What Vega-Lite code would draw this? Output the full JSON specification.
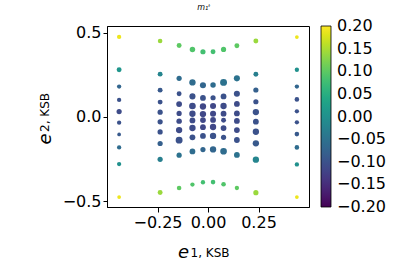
{
  "$schema": "https://vega.github.io/schema/vega-lite/v6.json",
  "width": 202,
  "height": 181,
  "autosize": "none",
  "padding": {"left": 107, "top": 26, "right": 90, "bottom": 59},
  "background": "white",
  "config": {
    "view": {"stroke": "black", "strokeWidth": 1},
    "font": "DejaVu Sans",
    "axis": {"labelFont": "DejaVu Sans", "titleFont": "DejaVu Sans", "labelColor": "black", "titleColor": "black", "tickColor": "black", "domainColor": "black", "grid": false, "titleFontWeight": "normal"},
    "legend": {"labelFont": "DejaVu Sans", "labelColor": "black"}
  },
  "title": {"text": "m₁ᵗ", "font": "DejaVu Sans", "fontSize": 8, "fontStyle": "italic", "fontWeight": "normal", "color": "black", "anchor": "middle", "baseline": "alphabetic", "offset": 7, "dx": -4},
  "data": {"values": [
    {"e1": -0.44, "e2": 0.475, "m": 0.19, "s": 5.0},
    {"e1": -0.44, "e2": 0.28, "m": 0.01, "s": 5.7},
    {"e1": -0.44, "e2": 0.18, "m": -0.07, "s": 5.0},
    {"e1": -0.44, "e2": 0.101, "m": -0.1, "s": 5.0},
    {"e1": -0.44, "e2": 0.032, "m": -0.11, "s": 6.0},
    {"e1": -0.44, "e2": -0.034, "m": -0.1, "s": 5.0},
    {"e1": -0.44, "e2": -0.104, "m": -0.09, "s": 4.3},
    {"e1": -0.44, "e2": -0.181, "m": -0.06, "s": 5.0},
    {"e1": -0.44, "e2": -0.28, "m": 0.0, "s": 5.0},
    {"e1": -0.44, "e2": -0.476, "m": 0.19, "s": 4.3},

    {"e1": -0.237, "e2": 0.451, "m": 0.14, "s": 5.3},
    {"e1": -0.237, "e2": 0.254, "m": -0.02, "s": 5.7},
    {"e1": -0.237, "e2": 0.159, "m": -0.09, "s": 5.7},
    {"e1": -0.237, "e2": 0.088, "m": -0.1, "s": 5.7},
    {"e1": -0.237, "e2": 0.028, "m": -0.1, "s": 6.0},
    {"e1": -0.237, "e2": -0.029, "m": -0.1, "s": 6.0},
    {"e1": -0.237, "e2": -0.089, "m": -0.1, "s": 6.0},
    {"e1": -0.237, "e2": -0.158, "m": -0.08, "s": 6.0},
    {"e1": -0.237, "e2": -0.252, "m": -0.03, "s": 6.0},
    {"e1": -0.237, "e2": -0.449, "m": 0.14, "s": 5.7},

    {"e1": -0.143, "e2": 0.424, "m": 0.1, "s": 5.7},
    {"e1": -0.143, "e2": 0.229, "m": -0.06, "s": 6.0},
    {"e1": -0.143, "e2": 0.138, "m": -0.1, "s": 5.7},
    {"e1": -0.143, "e2": 0.076, "m": -0.11, "s": 6.7},
    {"e1": -0.143, "e2": 0.021, "m": -0.11, "s": 6.0},
    {"e1": -0.143, "e2": -0.025, "m": -0.11, "s": 6.3},
    {"e1": -0.143, "e2": -0.078, "m": -0.11, "s": 7.3},
    {"e1": -0.143, "e2": -0.138, "m": -0.1, "s": 8.0},
    {"e1": -0.143, "e2": -0.227, "m": -0.05, "s": 6.0},
    {"e1": -0.143, "e2": -0.422, "m": 0.1, "s": 5.3},

    {"e1": -0.077, "e2": 0.4, "m": 0.09, "s": 6.3},
    {"e1": -0.077, "e2": 0.205, "m": -0.06, "s": 7.3},
    {"e1": -0.077, "e2": 0.122, "m": -0.1, "s": 7.0},
    {"e1": -0.077, "e2": 0.065, "m": -0.11, "s": 7.7},
    {"e1": -0.077, "e2": 0.019, "m": -0.11, "s": 7.3},
    {"e1": -0.077, "e2": -0.021, "m": -0.11, "s": 6.7},
    {"e1": -0.077, "e2": -0.066, "m": -0.11, "s": 7.3},
    {"e1": -0.077, "e2": -0.121, "m": -0.1, "s": 6.7},
    {"e1": -0.077, "e2": -0.205, "m": -0.06, "s": 6.7},
    {"e1": -0.077, "e2": -0.402, "m": 0.09, "s": 5.0},

    {"e1": -0.025, "e2": 0.387, "m": 0.08, "s": 6.0},
    {"e1": -0.025, "e2": 0.188, "m": -0.07, "s": 7.0},
    {"e1": -0.025, "e2": 0.113, "m": -0.1, "s": 6.7},
    {"e1": -0.025, "e2": 0.062, "m": -0.115, "s": 7.3},
    {"e1": -0.025, "e2": 0.017, "m": -0.115, "s": 7.3},
    {"e1": -0.025, "e2": -0.019, "m": -0.115, "s": 6.7},
    {"e1": -0.025, "e2": -0.061, "m": -0.115, "s": 6.7},
    {"e1": -0.025, "e2": -0.113, "m": -0.1, "s": 6.7},
    {"e1": -0.025, "e2": -0.194, "m": -0.07, "s": 6.0},
    {"e1": -0.025, "e2": -0.388, "m": 0.08, "s": 5.0},

    {"e1": 0.025, "e2": 0.387, "m": 0.08, "s": 5.7},
    {"e1": 0.025, "e2": 0.19, "m": -0.06, "s": 6.3},
    {"e1": 0.025, "e2": 0.114, "m": -0.1, "s": 6.0},
    {"e1": 0.025, "e2": 0.065, "m": -0.115, "s": 7.0},
    {"e1": 0.025, "e2": 0.019, "m": -0.115, "s": 7.0},
    {"e1": 0.025, "e2": -0.018, "m": -0.115, "s": 6.7},
    {"e1": 0.025, "e2": -0.06, "m": -0.115, "s": 7.3},
    {"e1": 0.025, "e2": -0.113, "m": -0.1, "s": 7.3},
    {"e1": 0.025, "e2": -0.193, "m": -0.07, "s": 7.3},
    {"e1": 0.025, "e2": -0.387, "m": 0.08, "s": 5.3},

    {"e1": 0.077, "e2": 0.401, "m": 0.09, "s": 6.0},
    {"e1": 0.077, "e2": 0.205, "m": -0.05, "s": 8.0},
    {"e1": 0.077, "e2": 0.122, "m": -0.1, "s": 6.7},
    {"e1": 0.077, "e2": 0.065, "m": -0.11, "s": 7.3},
    {"e1": 0.077, "e2": 0.019, "m": -0.11, "s": 6.7},
    {"e1": 0.077, "e2": -0.02, "m": -0.11, "s": 5.7},
    {"e1": 0.077, "e2": -0.066, "m": -0.11, "s": 6.7},
    {"e1": 0.077, "e2": -0.121, "m": -0.1, "s": 6.0},
    {"e1": 0.077, "e2": -0.204, "m": -0.06, "s": 7.7},
    {"e1": 0.077, "e2": -0.4, "m": 0.09, "s": 5.3},

    {"e1": 0.143, "e2": 0.423, "m": 0.1, "s": 5.7},
    {"e1": 0.143, "e2": 0.229, "m": -0.05, "s": 7.0},
    {"e1": 0.143, "e2": 0.138, "m": -0.1, "s": 7.0},
    {"e1": 0.143, "e2": 0.077, "m": -0.11, "s": 6.7},
    {"e1": 0.143, "e2": 0.021, "m": -0.11, "s": 6.7},
    {"e1": 0.143, "e2": -0.024, "m": -0.11, "s": 6.7},
    {"e1": 0.143, "e2": -0.078, "m": -0.11, "s": 6.7},
    {"e1": 0.143, "e2": -0.137, "m": -0.1, "s": 6.7},
    {"e1": 0.143, "e2": -0.226, "m": -0.05, "s": 6.7},
    {"e1": 0.143, "e2": -0.422, "m": 0.1, "s": 5.0},

    {"e1": 0.237, "e2": 0.451, "m": 0.14, "s": 5.7},
    {"e1": 0.237, "e2": 0.253, "m": -0.03, "s": 5.7},
    {"e1": 0.237, "e2": 0.16, "m": -0.08, "s": 6.0},
    {"e1": 0.237, "e2": 0.09, "m": -0.1, "s": 6.0},
    {"e1": 0.237, "e2": 0.029, "m": -0.1, "s": 7.3},
    {"e1": 0.237, "e2": -0.028, "m": -0.1, "s": 6.7},
    {"e1": 0.237, "e2": -0.088, "m": -0.1, "s": 7.3},
    {"e1": 0.237, "e2": -0.157, "m": -0.09, "s": 7.3},
    {"e1": 0.237, "e2": -0.254, "m": -0.02, "s": 7.3},
    {"e1": 0.237, "e2": -0.45, "m": 0.14, "s": 6.0},

    {"e1": 0.44, "e2": 0.474, "m": 0.19, "s": 4.3},
    {"e1": 0.44, "e2": 0.28, "m": 0.0, "s": 5.0},
    {"e1": 0.44, "e2": 0.18, "m": -0.07, "s": 5.0},
    {"e1": 0.44, "e2": 0.104, "m": -0.1, "s": 5.3},
    {"e1": 0.44, "e2": 0.033, "m": -0.1, "s": 5.0},
    {"e1": 0.44, "e2": -0.032, "m": -0.1, "s": 5.0},
    {"e1": 0.44, "e2": -0.102, "m": -0.09, "s": 5.3},
    {"e1": 0.44, "e2": -0.181, "m": -0.06, "s": 5.3},
    {"e1": 0.44, "e2": -0.282, "m": 0.0, "s": 5.0},
    {"e1": 0.44, "e2": -0.476, "m": 0.19, "s": 4.3}
  ]},
  "layer": [
    {
      "mark": {"type": "point", "filled": true, "shape": "circle", "opacity": 1},
      "encoding": {
        "x": {"field": "e1", "type": "quantitative",
              "scale": {"domain": [-0.5, 0.5], "nice": false, "zero": false},
              "axis": {"orient": "bottom", "values": [-0.25, 0, 0.25], "format": ".2f", "labelFontSize": 16, "tickSize": 5, "labelPadding": 2,
                       "title": "e", "titleFontSize": 18, "titleFontStyle": "italic", "titleAngle": 0, "titleAlign": "left", "titleBaseline": "alphabetic", "titleX": 70.5, "titleY": 50}},
        "y": {"field": "e2", "type": "quantitative",
              "scale": {"domain": [-0.535, 0.54], "nice": false, "zero": false},
              "axis": {"orient": "left", "values": [-0.5, 0, 0.5], "format": ".1f", "labelFontSize": 16, "tickSize": 4, "labelPadding": 2,
                       "title": "e", "titleFontSize": 18, "titleFontStyle": "italic", "titleAngle": 270, "titleAlign": "left", "titleBaseline": "alphabetic", "titleX": -57, "titleY": 118}},
        "color": {"field": "m", "type": "quantitative",
                  "scale": {"scheme": "viridis", "domain": [-0.2, 0.2], "clamp": true},
                  "legend": {"type": "gradient", "direction": "vertical", "title": null, "gradientLength": 181, "gradientThickness": 10,
                             "values": [0.199, 0.15, 0.1, 0.05, 0, -0.05, -0.1, -0.15, -0.199], "format": ".2f",
                             "labelFontSize": 16, "labelOffset": 6, "labelBaseline": "middle", "labelOverlap": false,
                             "gradientStrokeColor": "black", "gradientStrokeWidth": 0.8, "offset": 12, "padding": 0}},
        "size": {"field": "s", "type": "quantitative", "scale": {"type": "pow", "exponent": 2, "domain": [0, 8], "range": [0, 48]}, "legend": null}
      }
    },
    {
      "mark": {"type": "point", "opacity": 0},
      "encoding": {
        "x": {"field": "e1", "type": "quantitative",
              "axis": {"orient": "bottom", "labels": false, "ticks": false, "domain": false, "grid": false,
                       "title": "1, KSB", "titleFontSize": 12, "titleAngle": 0, "titleAlign": "left", "titleBaseline": "alphabetic", "titleX": 83, "titleY": 49}},
        "y": {"field": "e2", "type": "quantitative",
              "axis": {"orient": "left", "labels": false, "ticks": false, "domain": false, "grid": false,
                       "title": "2, KSB", "titleFontSize": 12, "titleAngle": 270, "titleAlign": "left", "titleBaseline": "alphabetic", "titleX": -59, "titleY": 105.5}}
      }
    }
  ],
  "resolve": {"axis": {"x": "independent", "y": "independent"}}
}
